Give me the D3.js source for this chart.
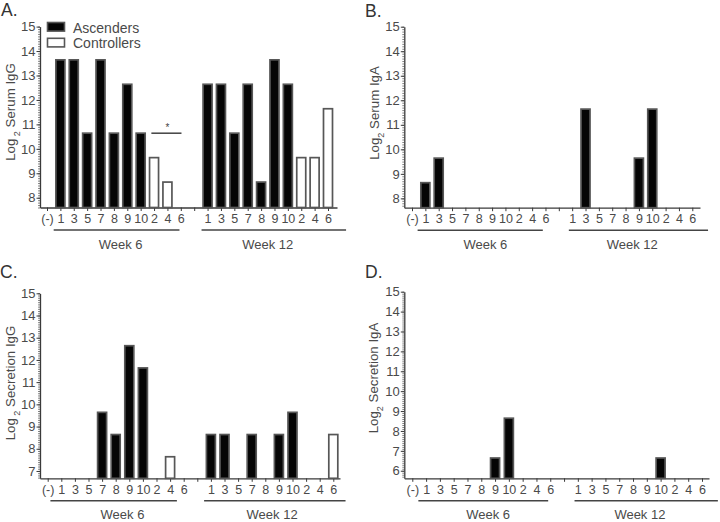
<!DOCTYPE html>
<html><head><meta charset="utf-8">
<script src="https://cdn.jsdelivr.net/npm/d3@7/dist/d3.min.js"></script>
<style>body{margin:0;background:#fff}text{font-family:"Liberation Sans",Arial,Helvetica,sans-serif}</style>
</head><body>
<svg id="chart" width="720" height="522"></svg>
<script>
// ---------- data ----------
const categoryLabels = ["(-)","1","3","5","7","8","9","10","2","4","6","","1","3","5","7","8","9","10","2","4","6"];
const categoryKeys   = ["neg","w6-1","w6-3","w6-5","w6-7","w6-8","w6-9","w6-10","w6-2","w6-4","w6-6","gap",
                        "w12-1","w12-3","w12-5","w12-7","w12-8","w12-9","w12-10","w12-2","w12-4","w12-6"];
const categoryGroup  = ["none","asc","asc","asc","asc","asc","asc","asc","ctl","ctl","ctl","none",
                        "asc","asc","asc","asc","asc","asc","asc","ctl","ctl","ctl"];
const weekLabels = ["Week 6","Week 12"];
const legendLabels = ["Ascenders","Controllers"];

const serumIgG     = [null,13.64,13.64,10.64,13.64,10.64,12.64,10.64,9.64,8.64,null,null,
                      12.64,12.64,10.64,12.64,8.64,13.64,12.64,9.64,9.64,11.64];
const serumIgA     = [null,8.64,9.64,null,null,null,null,null,null,null,null,null,
                      null,11.64,null,null,null,9.64,11.64,null,null,null];
const secretionIgG = [null,null,null,null,9.64,8.64,12.64,11.64,null,7.64,null,null,
                      8.64,8.64,null,8.64,null,8.64,9.64,null,null,8.64];
const secretionIgA = [null,null,null,null,null,null,6.64,8.64,null,null,null,null,
                      null,null,null,null,null,null,6.64,null,null,null];

// ---------- layout ----------
const panels = [
  {letter:"A.", lx:1,   ly:16,  label:["Log"," 2"," Serum IgG"], labelX:15, labelY:112, values:serumIgG,
   x0:40, x1:337, p0:47, p21:328, yMin:7.6, yMax:15, yBot:207.5, yTop:26.6,
   w6:[-0.5,-0.1], w12:[-0.45,1.35], legend:true, sig:true},
  {letter:"B.", lx:365, ly:16.7, label:["Log","2"," Serum IgA"], labelX:379, labelY:113, values:serumIgA,
   x0:404.3, x1:700, p0:412, p21:692.3, yMin:7.62, yMax:15, yBot:207.7, yTop:26.7,
   w6:[-0.58,-0.2], w12:[-0.25,1.18]},
  {letter:"C.", lx:0,   ly:278, label:["Log"," 2"," Secretion IgG"], labelX:15, labelY:383, values:secretionIgG,
   x0:40, x1:340, p0:47.7, p21:333.3, yMin:6.67, yMax:15, yBot:478.3, yTop:293.3,
   w6:[-0.8,-0.5], w12:[-0.5,0.9]},
  {letter:"D.", lx:365, ly:278, label:["Log","2"," Secretion IgA"], labelX:378, labelY:378, values:secretionIgA,
   x0:404.3, x1:709, p0:412.3, p21:702, yMin:5.62, yMax:15, yBot:478.3, yTop:291.7,
   w6:[-0.56,-0.15], w12:[-0.24,1.15]}
];

const textCol = "#4a4a4a", axisCol = "#3a3a3a", barStroke = "#575757";
const svg = d3.select("#chart");

panels.forEach(P => {
  const g = svg.append("g");
  const n = categoryKeys.length;
  const s = (P.p21 - P.p0) / (n - 1);
  const T = P.x1 - P.x0;
  const pad = (T / s - (n - 1)) / 2;
  const align = (P.p0 - P.x0) / (T - (n - 1) * s);
  const x = d3.scalePoint().domain(categoryKeys).range([P.x0, P.x1]).padding(pad).align(align);
  const y = d3.scaleLinear().domain([P.yMin, P.yMax]).range([P.yBot, P.yTop]);
  const step = x.step();

  // y minor ticks
  const minor = d3.range(Math.ceil(P.yMin * 10), P.yMax * 10 + 1).map(d => d / 10);
  const ym = g.append("g").attr("transform", `translate(${P.x0},0)`)
    .call(d3.axisLeft(y).tickValues(minor).tickFormat("").tickSize(2).tickSizeOuter(0));
  ym.select(".domain").remove();
  ym.selectAll("line").attr("stroke", "#666").attr("stroke-width", 0.8);

  // y major axis
  const ticks = d3.range(Math.ceil(P.yMin), P.yMax + 1);
  const ya = g.append("g").attr("transform", `translate(${P.x0},0)`)
    .call(d3.axisLeft(y).tickValues(ticks).tickFormat(d3.format("d")).tickSize(3.5).tickSizeOuter(0).tickPadding(1));
  ya.select(".domain").attr("stroke", axisCol).attr("stroke-width", 1.3);
  ya.selectAll("line").attr("stroke", axisCol).attr("stroke-width", 1);
  ya.selectAll("text").attr("fill", textCol).style("font-size", "13px");

  // x axis
  const xa = g.append("g").attr("transform", `translate(0,${P.yBot})`)
    .call(d3.axisBottom(x).tickFormat((d, i) => categoryLabels[i]).tickSize(3.5).tickSizeOuter(0).tickPadding(3));
  xa.select(".domain").attr("stroke", axisCol).attr("stroke-width", 1.3);
  xa.selectAll("line").attr("stroke", axisCol).attr("stroke-width", 1);
  xa.selectAll("text").attr("fill", textCol).style("font-size", "12.5px");

  // bars
  const data = categoryKeys.map((k, i) => ({k, v: P.values[i], grp: categoryGroup[i]})).filter(d => d.v != null);
  const bw = 9;
  g.selectAll("rect.bar").data(data).enter().append("rect").attr("class", "bar")
    .attr("x", d => x(d.k) - bw / 2).attr("width", bw)
    .attr("y", d => y(d.v)).attr("height", d => y(P.yMin) - y(d.v))
    .attr("fill", d => d.grp === "asc" ? "#050505" : "#ffffff")
    .attr("stroke", barStroke).attr("stroke-width", 1.7);

  // week group lines and labels
  const groupsDef = [
    {a: "w6-1", b: "w6-6", off: P.w6, label: weekLabels[0]},
    {a: "w12-1", b: "w12-6", off: P.w12, label: weekLabels[1]}
  ];
  groupsDef.forEach(G => {
    g.append("line")
      .attr("x1", x(G.a) + G.off[0] * step).attr("x2", x(G.b) + G.off[1] * step)
      .attr("y1", P.yBot + 22.5).attr("y2", P.yBot + 22.5)
      .attr("stroke", "#444").attr("stroke-width", 1.4);
    g.append("text").attr("x", (x(G.a) + x(G.b)) / 2).attr("y", P.yBot + 41)
      .attr("text-anchor", "middle").attr("fill", textCol).style("font-size", "13px").text(G.label);
  });

  // y label
  const t = g.append("text")
    .attr("transform", `translate(${P.labelX},${P.labelY}) rotate(-90)`)
    .attr("text-anchor", "middle").attr("fill", textCol).style("font-size", "13.3px");
  t.append("tspan").text(P.label[0]);
  t.append("tspan").attr("baseline-shift", "sub").style("font-size", "9px").text(P.label[1]);
  t.append("tspan").text(P.label[2]);

  // panel letter
  g.append("text").attr("x", P.lx).attr("y", P.ly).attr("fill", "#333")
    .style("font-size", "17.5px").text(P.letter);

  // legend
  if (P.legend) {
    const lg = g.append("g");
    legendLabels.forEach((lab, i) => {
      lg.append("rect").attr("x", 47.5).attr("y", 22.5 + i * 15.8).attr("width", 17).attr("height", 8.6)
        .attr("fill", i === 0 ? "#050505" : "#fff").attr("stroke", barStroke).attr("stroke-width", 1.6);
      lg.append("text").attr("x", 73).attr("y", 32.5 + i * 15.5).attr("fill", textCol)
        .style("font-size", "14px").text(lab);
    });
  }

  // significance annotation
  if (P.sig) {
    const xa1 = x("w6-2") - 0.2 * step, xa2 = x("w6-6") + 0.05 * step;
    g.append("line").attr("x1", xa1).attr("x2", xa2).attr("y1", y(10.64)).attr("y2", y(10.64))
      .attr("stroke", "#333").attr("stroke-width", 1.4);
    g.append("text").attr("x", (x("w6-2") + x("w6-6")) / 2).attr("y", y(10.64) - 2.5)
      .attr("text-anchor", "middle").attr("fill", "#444").style("font-size", "10px").text("*");
  }
});
</script>
</body></html>
